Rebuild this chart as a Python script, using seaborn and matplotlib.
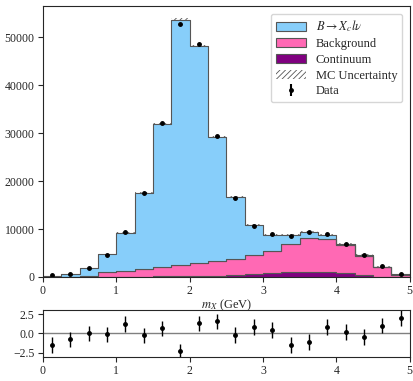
import numpy as np
import pandas as pd
import seaborn as sns
import matplotlib.pyplot as plt
from matplotlib.patches import Patch

# binning of m_X (GeV)
bin_edges = np.arange(0, 5.01, 0.25)
bin_centers = (bin_edges[:-1] + bin_edges[1:]) / 2

# stacked MC components (events per bin)
signal = [220, 480, 1570, 3790, 7960, 15960, 29920, 51250, 45350, 26000,
          13000, 6360, 3340, 1980, 1370, 890, 200, 260, 160, 140]
background = [30, 50, 210, 890, 1220, 1550, 1940, 2330, 2700, 3050,
              3230, 3870, 4730, 5820, 6990, 6840, 5790, 3980, 1900, 370]
continuum = [20, 30, 40, 60, 80, 100, 110, 120, 150, 200,
             420, 630, 770, 980, 1110, 1110, 910, 420, 100, 50]
mc_err = [25, 30, 50, 80, 110, 150, 200, 250, 240, 190,
          140, 120, 110, 110, 120, 110, 100, 80, 50, 30]

# data and pulls
data_counts = [420, 520, 1820, 4600, 9330, 17610, 32030, 52800, 48620, 29400,
               16440, 10720, 8980, 8630, 9330, 8910, 6900, 4600, 2370, 630]
pulls = [-1.5, -0.78, 0.0, -0.14, 1.18, -0.25, 0.64, -2.32, 1.29, 1.54,
         -0.18, 0.82, 0.46, -1.5, -1.14, 0.82, 0.18, -0.5, 1.0, 2.0]

labels = [r"$B \to X_c l \nu$", "Background", "Continuum"]
colors = ["#87CEFA", "#FF69B4", "#800080"]

sns.set_style("ticks")
plt.rcParams["font.family"] = ["Liberation Serif", "DejaVu Serif"]
plt.rcParams["mathtext.fontset"] = "stix"
plt.rcParams["font.size"] = 9
plt.rcParams["xtick.labelsize"] = 8.5
plt.rcParams["ytick.labelsize"] = 8.5
plt.rcParams["xtick.major.pad"] = 2
plt.rcParams["ytick.major.pad"] = 2.5
plt.rcParams["hatch.linewidth"] = 0.6

df = pd.DataFrame({
    "mx": np.tile(bin_centers, 3),
    "w": np.concatenate([signal, background, continuum]),
    "comp": np.repeat(labels, len(bin_centers)),
})

fig = plt.figure(figsize=(4.13, 3.81), dpi=100)
ax = fig.add_axes([0.104, 0.273, 0.888, 0.711])
ax_r = fig.add_axes([0.104, 0.062, 0.888, 0.124])

sns.histplot(data=df, x="mx", weights="w", hue="comp", hue_order=labels,
             palette=colors, bins=20, binrange=(0, 5), multiple="stack",
             element="step", alpha=1, edgecolor="#555555", linewidth=0.8,
             legend=False, ax=ax)

total = np.array(signal) + np.array(background) + np.array(continuum)
err = np.array(mc_err)
ax.bar(bin_centers, 2 * err, bottom=total - err, width=0.25, fill=False,
       hatch="//////", edgecolor="#555555", linewidth=0)

ax.errorbar(bin_centers, data_counts, yerr=np.sqrt(data_counts), fmt="o",
            color="black", markersize=2.5, elinewidth=1)

ax.set_xlim(0, 5)
ax.set_ylim(0, 56500)
ax.set_xlabel("$m_X$ (GeV)", labelpad=1)
ax.set_ylabel("")

handles = [Patch(facecolor=c, edgecolor="#555555", linewidth=0.8) for c in colors]
handles.append(Patch(facecolor="white", edgecolor="#555555", hatch="//////", linewidth=0))
data_handle = ax.errorbar([], [], yerr=[], fmt="o", color="black", markersize=2.5)
handles.append(data_handle)
ax.legend(handles, labels + ["MC Uncertainty", "Data"], loc="upper right",
          fontsize=9, handlelength=2.4, labelspacing=0.3, borderaxespad=0.6)

ax_r.axhline(0, color="gray", linewidth=1)
ax_r.errorbar(bin_centers, pulls, yerr=1, fmt="o", color="black",
              markersize=2.5, elinewidth=1)
ax_r.set_xlim(0, 5)
ax_r.set_ylim(-3.1, 3)
ax_r.set_yticks([-2.5, 0, 2.5])

fig.savefig("out.png", dpi=100)
